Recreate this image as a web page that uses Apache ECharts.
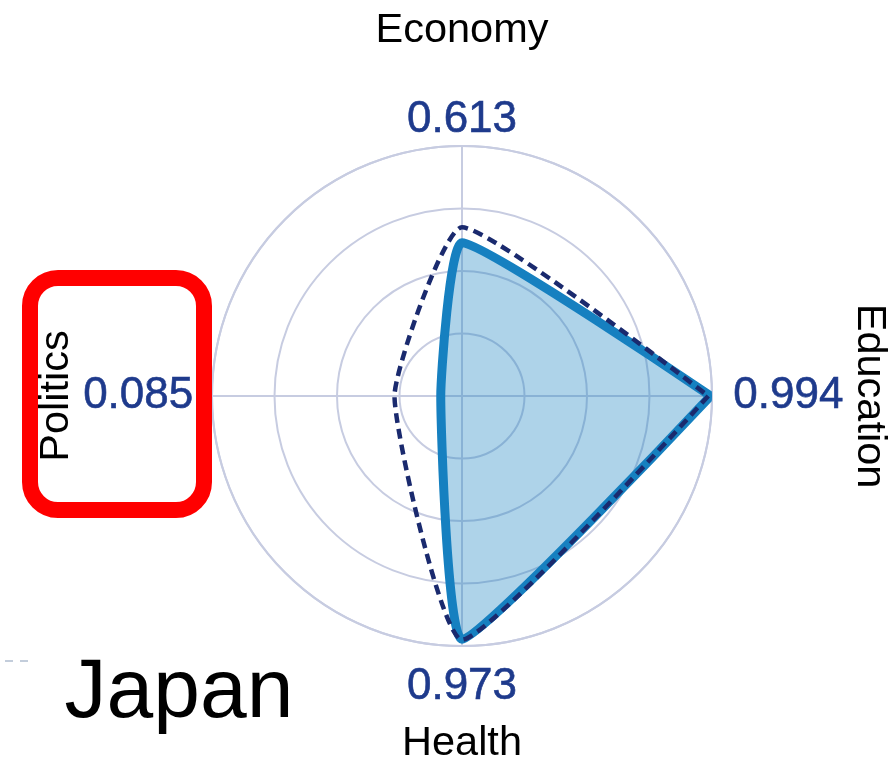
<!DOCTYPE html>
<html>
<head>
<meta charset="utf-8">
<title>Japan</title>
<script src="https://cdn.jsdelivr.net/npm/echarts@6/dist/echarts.min.js"></script>
<style>
  html, body { margin: 0; padding: 0; background: #fff; }
  #main { width: 896px; height: 759px; }
</style>
</head>
<body>
<div id="main"></div>
<script>
// 数据
var categories = ['Economy', 'Education', 'Health', 'Politics'];
var japanValues = [0.613, 0.994, 0.973, 0.085];
var averageValues = [0.675, 0.985, 0.975, 0.27];
var ringTicks = [0.25, 0.5, 0.75, 1];
var countryName = 'Japan';

// Economy at top, then clockwise (angle axis runs 90..450, 90 = right)
var angleOf = [360, 90, 180, 270];

var fontFamily = '"Liberation Sans", Arial, Helvetica, sans-serif';
var gridColor = '#c7cce1';
var valueColor = '#1e3a8c';

// 闭合曲线：从 startIdx 出发绕一圈回到 startIdx，角度一路递增
function loop(values, startIdx) {
  var pts = [], base = angleOf[startIdx];
  for (var k = 0; k <= categories.length; k++) {
    var idx = (startIdx + k) % categories.length;
    pts.push([values[idx], base + k * 90]);
  }
  return pts;
}

// label layout (radius in axis units)
var valueLabelRadius = [1.105, 1.085, 1.165, 1.075];
var valueLabelAlign = ['center', 'left', 'center', 'right'];
var nameLabelRadius = [1.46, 1.63, 1.39, 1.62];
var nameLabelRotate = [0, -90, 0, 90];

var valueLabels = categories.map(function (c, i) {
  return {
    value: [valueLabelRadius[i], angleOf[i]],
    label: {
      show: true,
      position: 'inside',
      align: valueLabelAlign[i],
      verticalAlign: 'middle',
      formatter: japanValues[i].toFixed(3),
      color: valueColor,
      fontSize: 44,
      fontFamily: fontFamily,
      textBorderColor: valueColor,
      textBorderWidth: 0.6
    }
  };
});

var nameLabels = categories.map(function (c, i) {
  return {
    value: [nameLabelRadius[i], angleOf[i]],
    label: {
      show: true,
      position: 'inside',
      align: 'center',
      verticalAlign: 'middle',
      rotate: nameLabelRotate[i],
      formatter: c,
      color: '#000',
      fontSize: 41.5,
      fontFamily: fontFamily
    }
  };
});

var chart = echarts.init(document.getElementById('main'), null, { renderer: 'canvas' });

chart.setOption({
  backgroundColor: '#fff',
  animation: false,
  polar: {
    center: [462, 396],
    radius: 250
  },
  angleAxis: {
    type: 'value',
    min: 90,
    max: 450,
    interval: 90,
    startAngle: 0,
    clockwise: true,
    axisLine: { show: true, lineStyle: { color: gridColor, width: 2 } },
    axisTick: { show: false },
    axisLabel: { show: false },
    splitLine: { show: true, lineStyle: { color: gridColor, width: 2 } }
  },
  radiusAxis: {
    type: 'value',
    min: 0,
    max: ringTicks[ringTicks.length - 1],
    interval: ringTicks[0],
    axisLine: { show: false },
    axisTick: { show: false },
    axisLabel: { show: false },
    splitLine: { show: true, lineStyle: { color: gridColor, width: 2 } }
  },
  series: [{
    //日本（从 Education 起）
    name: countryName,
    type: 'line',
    coordinateSystem: 'polar',
    data: loop(japanValues, 1),
    smooth: 0.13,
    clip: false,
    showSymbol: false,
    symbol: 'none',
    lineStyle: { color: '#1680c0', width: 9, join: 'round', cap: 'round' },
    areaStyle: { color: '#1680c0', opacity: 0.35 },
    z: 3
  }, {
    //虚线（从 Education 起）
    name: 'average',
    type: 'line',
    coordinateSystem: 'polar',
    data: loop(averageValues, 1),
    smooth: 0.15,
    clip: false,
    showSymbol: false,
    symbol: 'none',
    lineStyle: { color: '#1a2a6e', width: 4.5, type: [10, 6], join: 'round' },
    z: 4
  }, {
    type: 'scatter',
    coordinateSystem: 'polar',
    symbolSize: 0,
    clip: false,
    silent: true,
    itemStyle: { opacity: 1 },
    data: valueLabels,
    z: 5
  }, {
    type: 'scatter',
    coordinateSystem: 'polar',
    symbolSize: 0,
    clip: false,
    silent: true,
    itemStyle: { opacity: 1 },
    data: nameLabels,
    z: 5
  }],
  graphic: [{
    type: 'rect',
    shape: { x: 30, y: 278, width: 174, height: 232, r: 28 },
    style: { fill: 'none', stroke: '#ff0000', lineWidth: 16 },
    z: 10
  }, {
    type: 'line',
    shape: { x1: 5, y1: 661, x2: 29, y2: 661 },
    style: { stroke: '#c3cddb', lineWidth: 2, lineDash: [8, 7] }
  }, {
    type: 'text',
    x: 179,
    y: 694,
    style: {
      text: countryName,
      fill: '#000',
      font: '84px ' + fontFamily,
      align: 'center',
      verticalAlign: 'middle'
    }
  }]
});
</script>
</body>
</html>
